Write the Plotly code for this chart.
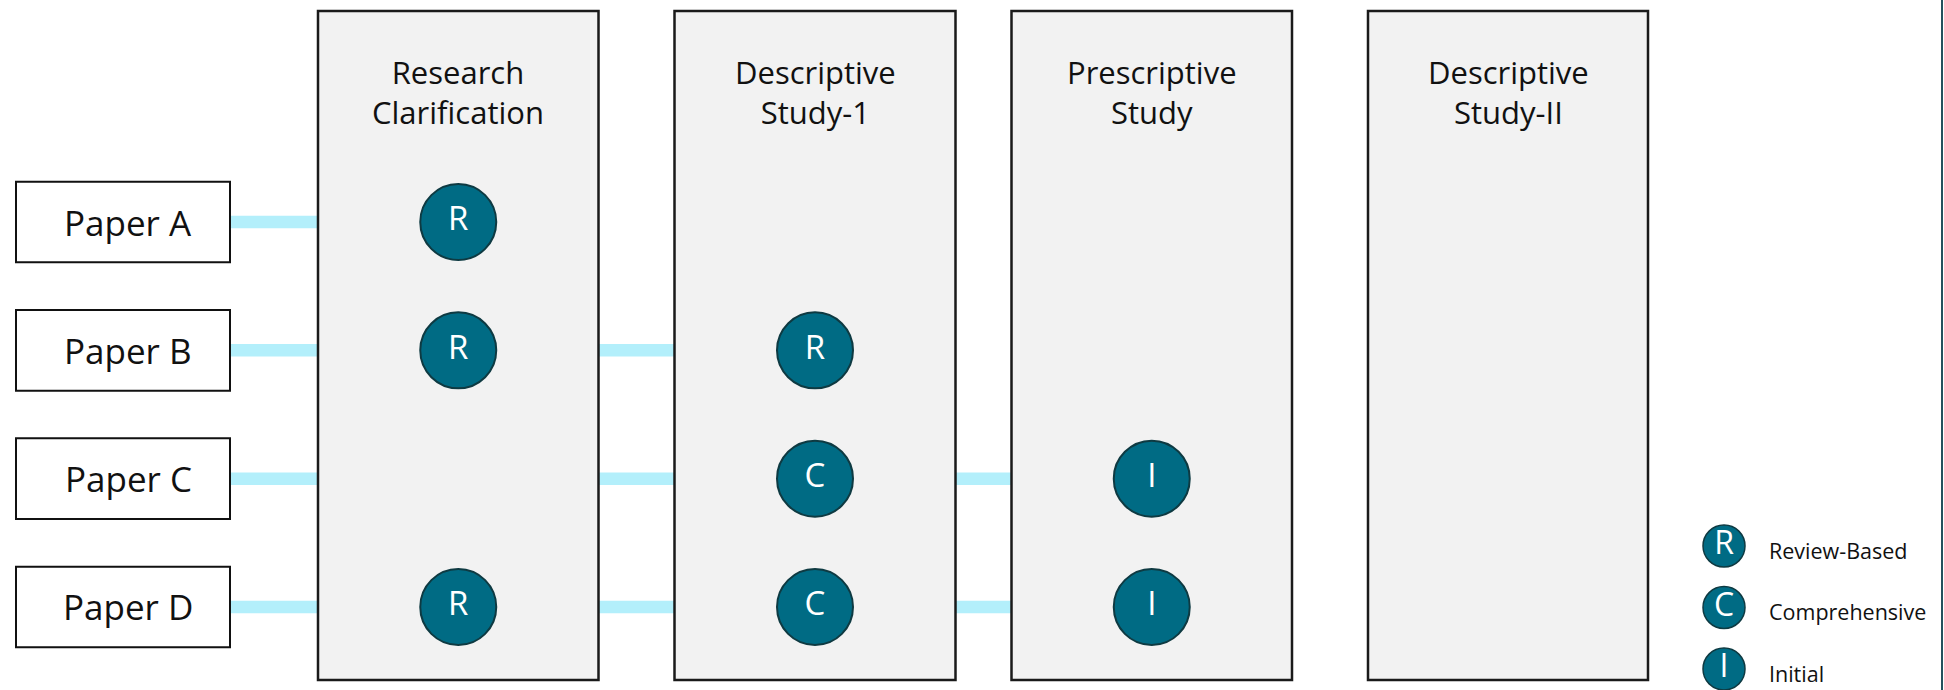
import plotly.graph_objects as go

# ---------------- data ----------------
papers = ["Paper A", "Paper B", "Paper C", "Paper D"]
stages = ["Research<br>Clarification", "Descriptive<br>Study-1", "Prescriptive<br>Study", "Descriptive<br>Study-II"]
research_clarification = ["R", "R", "", "R"]
descriptive_study_1 = ["", "R", "C", "C"]
prescriptive_study = ["", "", "I", "I"]
descriptive_study_2 = ["", "", "", ""]
legend_codes = ["R", "C", "I"]
legend_labels = ["Review-Based", "Comprehensive", "Initial"]

stage_codes = [research_clarification, descriptive_study_1, prescriptive_study, descriptive_study_2]

# ---------------- layout constants ----------------
W, H = 1944, 690
FONT = "Open Sans"
TEAL = "#006B84"
TEAL_EDGE = "#0E3A42"
LINK = "#B3EFFB"
BOX_FILL = "#F2F2F2"
BOX_EDGE = "#1A1A1A"

STAGE_SPANS = [(318, 598.5), (674.5, 955.5), (1011.5, 1292), (1368, 1648)]  # pixel spans of columns
STAGE_TOP, STAGE_BOTTOM = 11, 680
PAPER_LEFT, PAPER_RIGHT = 16, 230
PAPER_HALF = 0.314  # half height of paper boxes in row units
ROW0_PX, ROW_STEP_PX = 222, 128.33
Y_RANGE = [(H - ROW0_PX) / ROW_STEP_PX, -ROW0_PX / ROW_STEP_PX]

LEGEND_X, LEGEND_Y0, LEGEND_STEP, LEGEND_TEXT_X = 1724, 546, 61.5, 1767

fig = go.Figure()
shapes = []
annotations = []

# connectors (drawn first, covered by boxes)
for i, p in enumerate(papers):
    last = max([k for k, col in enumerate(stage_codes) if col[i]] + [0])
    shapes.append(dict(type="line", xref="x", yref="y", x0=PAPER_RIGHT, x1=STAGE_SPANS[last][0],
                       y0=i, y1=i, line=dict(color=LINK, width=12.5), layer="below"))

# stage boxes + titles + circles
layout_axes = {}
for k, (stage, codes) in enumerate(zip(stages, stage_codes)):
    ax = k + 2
    x0, x1 = STAGE_SPANS[k]
    layout_axes[f"xaxis{ax}"] = dict(domain=[x0 / W, x1 / W], type="category", categoryarray=[stage],
                                     range=[-0.5, 0.5], visible=False, anchor="y", fixedrange=True)
    shapes.append(dict(type="rect", xref=f"x{ax} domain", yref="paper", x0=0, x1=1,
                       y0=1 - STAGE_BOTTOM / H, y1=1 - STAGE_TOP / H,
                       fillcolor=BOX_FILL, line=dict(color=BOX_EDGE, width=2.5), layer="below"))
    annotations.append(dict(text=stage, xref=f"x{ax} domain", yref="paper", x=0.5, y=1 - 92 / H,
                            xanchor="center", yanchor="middle", showarrow=False,
                            font=dict(family=FONT, size=31, color="#111111")))
    ys = [p for p, c in zip(papers, codes) if c]
    ts = [c for c in codes if c]
    fig.add_trace(go.Scatter(x=[stage] * len(ys), y=ys, text=ts, mode="markers+text",
                             xaxis=f"x{ax}", yaxis="y", textposition="middle center",
                             marker=dict(size=76, color=TEAL, line=dict(color=TEAL_EDGE, width=2)),
                             textfont=dict(family=FONT, size=33, color="white"),
                             hoverinfo="skip", showlegend=False, cliponaxis=False))

# paper boxes and labels
for i, p in enumerate(papers):
    shapes.append(dict(type="rect", xref="x", yref="y", x0=PAPER_LEFT, x1=PAPER_RIGHT,
                       y0=i - PAPER_HALF, y1=i + PAPER_HALF, fillcolor="white",
                       line=dict(color="#111111", width=2), layer="below"))
    annotations.append(dict(text=p, xref="x", yref="y", x=(PAPER_LEFT + PAPER_RIGHT) / 2 + 5, y=i,
                            xanchor="center", yanchor="middle", showarrow=False,
                            font=dict(family=FONT, size=35, color="#111111")))

# legend (manual key)
ly = [LEGEND_Y0 + j * LEGEND_STEP for j in range(len(legend_codes))]
fig.add_trace(go.Scatter(x=[LEGEND_X] * len(legend_codes), y=ly, text=legend_codes,
                         mode="markers+text", xaxis="x", yaxis="y2", textposition="middle center",
                         marker=dict(size=42, color=TEAL, line=dict(color=TEAL_EDGE, width=1.5)),
                         textfont=dict(family=FONT, size=32, color="white"),
                         hoverinfo="skip", showlegend=False, cliponaxis=False))
for lab, yy in zip(legend_labels, ly):
    annotations.append(dict(text=lab, xref="x", yref="y2", x=LEGEND_TEXT_X, y=yy + 4,
                            xanchor="left", yanchor="middle", showarrow=False,
                            font=dict(family=FONT, size=21.5, color="#111111")))

# right edge rule
shapes.append(dict(type="line", xref="paper", yref="paper", x0=1942 / W, x1=1942 / W, y0=0, y1=1,
                   line=dict(color="#24505E", width=2)))

fig.update_layout(
    width=W, height=H, margin=dict(l=0, r=0, t=0, b=0),
    paper_bgcolor="white", plot_bgcolor="rgba(0,0,0,0)",
    xaxis=dict(domain=[0, 1], range=[0, W], visible=False, anchor="y", fixedrange=True),
    yaxis=dict(domain=[0, 1], type="category", categoryarray=papers, range=Y_RANGE,
               visible=False, anchor="x", fixedrange=True),
    yaxis2=dict(domain=[0, 1], range=[H, 0], visible=False, overlaying="y", anchor="x", fixedrange=True),
    shapes=shapes, annotations=annotations, showlegend=False,
    **layout_axes,
)

fig.write_html("out.html", config={"displayModeBar": False},
               post_script="document.body.style.margin='0px';document.body.style.overflow='hidden';")
